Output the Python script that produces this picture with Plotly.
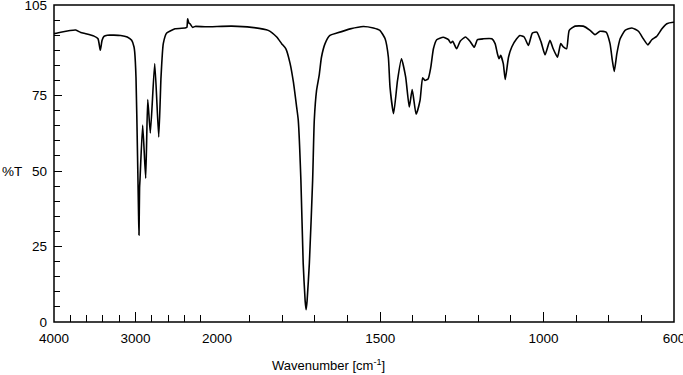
import plotly.graph_objects as go

# IR spectrum: wavenumber (cm-1) and transmittance (%T)
wavenumber = [4000, 3918, 3734, 3672, 3611, 3509, 3460, 3432, 3410, 3387, 3346, 3182, 3101, 3047, 3018,
              3010, 2994, 2975, 2962, 2957, 2950, 2945, 2912, 2875, 2850, 2818, 2764, 2715, 2687, 2659,
              2617, 2515, 2393, 2370, 2360, 2345, 2331, 2300, 2270, 2147, 2000,
              1955, 1894, 1843, 1817, 1802, 1789, 1776, 1766, 1756, 1751, 1743, 1736, 1730, 1727, 1724,
              1717, 1707, 1702, 1695, 1687, 1680, 1669, 1654, 1633, 1592, 1552, 1521, 1501, 1485, 1475,
              1470, 1459, 1447, 1435, 1422, 1411, 1402, 1390, 1378, 1370, 1363, 1353, 1345, 1337, 1327,
              1307, 1291, 1284, 1278, 1266, 1255, 1239, 1225, 1212, 1202, 1184, 1158, 1148, 1141, 1136,
              1131, 1123, 1117, 1107, 1097, 1082, 1072, 1059, 1046, 1034, 1020, 1007, 995, 980, 970,
              957, 947, 939, 929, 921, 903, 878, 857, 842, 827, 808, 796, 789, 783, 775, 765, 750, 729,
              709, 694, 680, 668, 653, 637, 622, 602, 600]
transmittance = [95.5, 96.0, 96.7, 95.9, 95.5, 94.7, 93.8, 90.0, 93.3, 94.6, 95.0, 94.9, 94.4, 93.3, 91.1,
                 89.5, 81.1, 55.0, 35.0, 28.8, 44.5, 47.0, 65.2, 47.6, 73.7, 62.6, 85.6, 61.3, 81.1, 92.2,
                 95.7, 97.1, 97.4, 97.6, 100.4, 99.0, 98.8, 97.6, 97.9, 97.8, 97.9,
                 98.0, 97.6, 96.6, 94.4, 92.2, 90.5, 85.6, 79.5, 71.2, 66.8, 47.0, 19.5, 7.0, 4.1, 7.0,
                 19.6, 47.0, 66.8, 76.7, 81.7, 87.7, 92.2, 94.9, 95.7, 97.1, 97.9, 97.4, 96.6, 93.8, 87.7,
                 77.8, 69.0, 80.0, 87.2, 81.1, 71.2, 77.0, 68.8, 73.4, 80.9, 80.0, 80.6, 84.4, 90.5, 93.5,
                 94.3, 93.5, 92.4, 93.0, 90.5, 93.0, 94.4, 93.0, 91.0, 93.5, 93.8, 93.8, 92.2, 88.9, 87.2,
                 88.3, 85.6, 80.3, 87.7, 91.1, 93.8, 94.9, 94.4, 91.6, 95.7, 96.0, 92.7, 88.5, 93.3, 90.5,
                 87.7, 92.2, 91.1, 90.5, 96.6, 98.0, 98.0, 96.6, 95.2, 96.3, 96.0, 92.2, 86.7, 83.0, 88.9,
                 93.8, 96.6, 97.4, 96.3, 93.8, 91.8, 93.5, 94.6, 97.1, 98.8, 99.3, 99.3]

upper_ticks = [4000, 3000, 2000]
lower_ticks = [1500, 1000, 600]
y_ticks = [0, 25, 50, 75, 105]

hi = [(w, t) for w, t in zip(wavenumber, transmittance) if w >= 2000]
lo = [(w, t) for w, t in zip(wavenumber, transmittance) if w <= 2000]

FONT = "Liberation Sans, Arial, sans-serif"
line = dict(color="black", width=1.6, shape="spline", smoothing=0.5)

fig = go.Figure()
fig.add_trace(go.Scatter(x=[p[0] for p in hi], y=[p[1] for p in hi], mode="lines",
                         line=line, xaxis="x", yaxis="y", showlegend=False, hoverinfo="skip"))
fig.add_trace(go.Scatter(x=[p[0] for p in lo], y=[p[1] for p in lo], mode="lines",
                         line=line, xaxis="x2", yaxis="y", showlegend=False, hoverinfo="skip"))

split = 163 / 620
tickfont = dict(family=FONT, size=13.5, color="black")
common_x = dict(showgrid=False, zeroline=False, showline=False, ticks="inside",
                ticklen=10, tickwidth=1.3, tickcolor="black", tickfont=tickfont,
                ticklabelstandoff=6, anchor="y", automargin=False, ticklabeloverflow="allow")
fig.update_layout(
    width=683, height=375,
    margin=dict(l=54, r=9, t=5, b=53, autoexpand=False),
    paper_bgcolor="white", plot_bgcolor="white",
    xaxis=dict(domain=[0, split], range=[4000, 2000], tickvals=upper_ticks,
               ticktext=[str(v) for v in upper_ticks],
               minor=dict(dtick=200, tick0=0, ticks="inside", ticklen=7, tickwidth=1.3, tickcolor="black"),
               **common_x),
    xaxis2=dict(domain=[split, 1], range=[2000, 600], tickvals=lower_ticks,
                ticktext=[str(v) for v in lower_ticks],
                minor=dict(dtick=100, tick0=0, ticks="inside", ticklen=7, tickwidth=1.3, tickcolor="black"),
                **common_x),
    yaxis=dict(range=[0, 105], tickvals=y_ticks, ticktext=[str(v) for v in y_ticks],
               showgrid=False, zeroline=False, showline=False, ticks="inside", ticklen=8,
               tickwidth=1.3, tickcolor="black", tickfont=tickfont, ticklabelstandoff=6,
               minor=dict(dtick=5, tick0=0, ticks="inside", ticklen=6, tickwidth=1.3, tickcolor="black"),
               anchor="x", automargin=False, ticklabeloverflow="allow"),
    shapes=[dict(type="rect", xref="paper", yref="paper", x0=0, x1=1, y0=0, y1=1,
                 line=dict(color="black", width=1.5), layer="above")],
    annotations=[
        dict(text="%T", xref="paper", yref="y", x=-54 / 620, y=50, xanchor="left",
             yanchor="middle", showarrow=False, font=tickfont),
        dict(text="Wavenumber [cm<sup>-1</sup>]", xref="paper", yref="paper",
             x=(328 - 54) / 620, y=-43 / 317, xanchor="center", yanchor="middle",
             showarrow=False, font=dict(family=FONT, size=13, color="black")),
    ],
)
fig.write_html("out.html", config={"displayModeBar": False},
               post_script="document.body.style.margin='0';document.body.style.overflow='hidden';")
